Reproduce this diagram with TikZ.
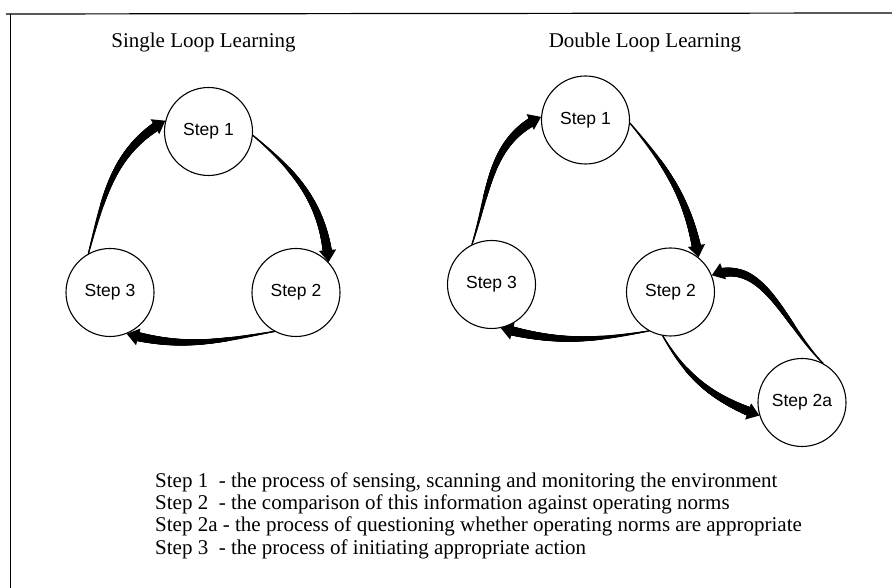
\documentclass[tikz,border=0pt]{standalone}
\usepackage{fontspec}
\setmainfont{Liberation Serif}
\setsansfont{Liberation Sans}
\usetikzlibrary{arrows.meta,decorations.markings}
\begin{document}
\begin{tikzpicture}[x=1pt,y=1pt,
  stepnode/.style={circle,draw,line width=1.1pt,minimum size=88pt,inner sep=0pt,
    font=\sffamily\fontsize{17.5}{19}\selectfont},
  title/.style={font=\fontsize{21}{24}\selectfont,inner sep=0pt},
  legend/.style={anchor=base west,font=\fontsize{21}{22}\selectfont,inner sep=0pt},
  frame/.style={line width=1.2pt},
  taper/.style={line width=1.2pt,-{Triangle[length=12pt,width=17pt]},
    postaction={decorate},
    decoration={markings,
      mark=between positions 0 and -10pt step 0.5pt with {
        \pgfmathsetmacro\tw{0.6+4.4*\pgfkeysvalueof{/pgf/decoration/mark info/distance from start}/\pgfdecoratedpathlength}
        \fill (0,0) circle (\tw pt);}}}
]
\useasboundingbox (0,0) rectangle (892,588);
\fill[white] (0,0) rectangle (892,588);
% frame
\draw[frame] (6,574) -- (892,575);
\draw[line width=1pt] (10,574) -- (10,0);
% titles
\node[title] (t1) at (203.5,546) {Single Loop Learning};
\node[title] (t2) at (645,546) {Double Loop Learning};
% single loop
\node[stepnode] (a1) at (208.5,456.5) {Step 1};
\node[stepnode] (a2) at (296,295.5) {Step 2};
\node[stepnode] (a3) at (110,295.5) {Step 3};
% double loop
\node[stepnode] (b1) at (585.5,468) {Step 1};
\node[stepnode] (b2) at (670.5,296) {Step 2};
\node[stepnode] (b3) at (491.5,303.5) {Step 3};
\node[stepnode] (b4) at (802,185.5) {Step 2a};
% arrows
\draw[taper] (a1.-5) to[out=-40,in=95] (a2.43);
\draw[taper] (a2.-119) to[out=190,in=-15] (a3.-68);
\draw[taper] (a3.119) to[out=75,in=210] (a1.166);
\draw[taper] (b1.-4) to[out=-50,in=100] (b2.51);
\draw[taper] (b2.-119) to[out=190,in=-15] (b3.-78);
\draw[taper] (b3.116) to[out=72,in=205] (b1.176);
\draw[taper] (b2.-100) to[out=-60,in=160] (b4.197);
\draw[taper] (b4.62) to[out=135,in=20] (b2.22);
% legend
\node[legend] (l1) at (155,100) {Step 1\ \ - the process of sensing, scanning and monitoring the environment};
\node[legend] (l2) at (155,78) {Step 2\ \ - the comparison of this information against operating norms};
\node[legend] (l3) at (155,56) {Step 2a - the process of questioning whether operating norms are appropriate};
\node[legend] (l4) at (155,33) {Step 3\ \ - the process of initiating appropriate action};
\end{tikzpicture}
\end{document}
